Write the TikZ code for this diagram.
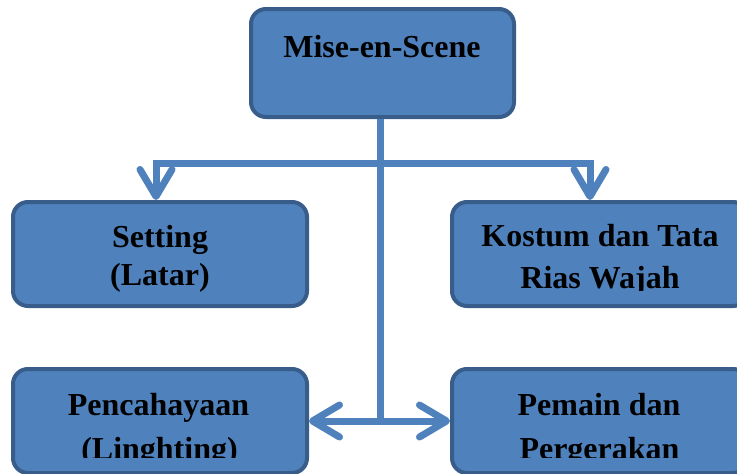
\documentclass[tikz,border=0pt]{standalone}
\usepackage{fontspec}
\setmainfont{Liberation Serif}
\usetikzlibrary{arrows.meta}
\definecolor{boxfill}{HTML}{4F81BD}
\definecolor{boxline}{HTML}{385D8A}
\begin{document}
\begin{tikzpicture}[x=1pt,y=-1pt,
  box/.style={draw=boxline, line width=4pt, fill=boxfill, rounded corners=15pt,
    minimum width=294pt, minimum height=104pt, inner sep=0pt},
  lbl/.style={font=\fontsize{32}{38}\selectfont\bfseries, anchor=base, inner sep=0pt},
  conn/.style={draw=boxfill, line width=7pt},
  arr/.style={conn, -{Straight Barb[length=27pt,width=32pt,round]}}]
\clip (0,0) rectangle (737,474);
% boxes
\node[box, minimum width=263pt, minimum height=108pt] (top) at (382.5,63) {};
\node[box] (setting) at (160,254) {};
\node[box, minimum width=296pt] (kostum) at (600,254) {};
\node[box, minimum height=104pt] (cahaya) at (160,421) {};
\node[box, minimum width=296pt, minimum height=104pt] (pemain) at (600,421) {};
% labels
\node[lbl] (t0) at (382,57) {Mise-en-Scene};
\node[lbl] (t1a) at (160,247) {Setting};
\node[lbl] (t1b) at (160,285) {(Latar)};
\begin{scope}
  \clip (450,200) rectangle (750,290);
  \node[lbl] (t2a) at (600,246.5) {Kostum dan Tata};
  \node[lbl] (t2b) at (600,288.3) {Rias Wajah};
\end{scope}
\begin{scope}
  \clip (0,360) rectangle (737,457.7);
  \node[lbl] (t3a) at (158.5,415.7) {Pencahayaan};
  \node[lbl] (t3b) at (159.5,459) {(Linghting)};
  \node[lbl] (t4a) at (599,415.7) {Pemain dan};
  \node[lbl] (t4b) at (599.5,459) {Pergerakan};
\end{scope}
% connectors
\coordinate (hub) at (380,163);
\coordinate (bot) at (380,421);
\coordinate (lx) at (156,0);
\coordinate (rx) at (590,0);
\draw[conn] (top.south -| hub) -- (bot);
\draw[arr] (hub) -| (lx |- setting.north);
\draw[arr] (hub) -| (rx |- kostum.north);
\draw[arr] (bot) -- (cahaya.east |- bot);
\draw[arr] (bot) -- (pemain.west |- bot);
\end{tikzpicture}
\end{document}
